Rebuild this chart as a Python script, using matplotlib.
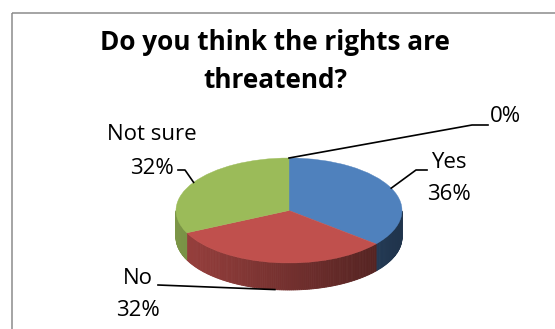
import numpy as np
import matplotlib
matplotlib.use("Agg")
import matplotlib.pyplot as plt
from matplotlib.patches import Wedge, Polygon, Rectangle
from matplotlib.transforms import Affine2D

# survey answers
categories = ["Yes", "No", "Not sure", ""]
shares = [36, 32, 32, 0]
colors = ["#4f81bd", "#c0504d", "#9bbb59", "#8064a2"]
title_lines = ["Do you think the rights are", "threatend?"]

plt.rcParams['font.family'] = ['Open Sans', 'DejaVu Sans']

fig = plt.figure(figsize=(5.55, 3.29), dpi=100)
ax = fig.add_axes([0, 0, 1, 1])
ax.set_xlim(0, 555)
ax.set_ylim(329, 0)
ax.axis('off')

# chart frame
ax.add_patch(Rectangle((11.5, 13), 600, 400, fill=False, ec="#8c8c8c", lw=1.1))

for i, line in enumerate(title_lines):
    ax.text(275, 42 + 38 * i, line, ha='center', va='center', fontsize=18.8,
            fontweight='bold')

# pie geometry in pixels: centre, half-width, half-height, rim depth
cx, cy, a, b, depth = 289, 210.5, 113, 52.5, 27
pie_tr = Affine2D().scale(a, -b).translate(cx, cy) + ax.transData
dz = depth / b

fracs = np.array(shares, dtype=float) / sum(shares)
ends = 90 - 360 * np.cumsum(fracs)
starts = np.concatenate([[90], ends[:-1]])

def shade(col, ang):
    rgb = np.array(matplotlib.colors.to_rgb(col))
    f = 0.6 - 0.2 * np.cos(np.radians(ang))
    return tuple(np.clip(rgb * f, 0, 1))

# rim (front half only)
for col, t1, t2 in zip(colors, starts, ends):
    if t1 == t2:
        continue
    steps = max(int(abs(t1 - t2)), 2)
    angs = np.linspace(t2, t1, steps + 1)
    for a1, a2 in zip(angs[:-1], angs[1:]):
        m = np.radians((a1 + a2) / 2)
        if np.sin(m) >= 0:
            continue
        r1, r2 = np.radians(a1), np.radians(a2)
        pts = [(np.cos(r1), np.sin(r1)), (np.cos(r2), np.sin(r2)),
               (np.cos(r2), np.sin(r2) - dz), (np.cos(r1), np.sin(r1) - dz)]
        c = shade(col, np.degrees(m))
        ax.add_patch(Polygon(pts, closed=True, fc=c, ec=c, lw=0.6,
                             transform=pie_tr))

# top faces
for col, t1, t2 in zip(colors, starts, ends):
    if t1 == t2:
        continue
    ax.add_patch(Wedge((0, 0), 1, t2, t1, fc=col, ec=col, lw=0.3,
                       transform=pie_tr))

# data labels with leader lines
label_pos = {"Yes": (449, 162), "No": (138, 278), "Not sure": (152, 135), "": (505, 117)}
elbows = {"Yes": [(416, 170), (427, 170)],
          "No": [(158, 285)],
          "Not sure": [(185, 170), (178, 170)],
          "": [(472, 125), (488, 125)]}

for cat, val, t1, t2 in zip(categories, shares, starts, ends):
    mid = np.radians((t1 + t2) / 2)
    px, py = cx + a * np.cos(mid), cy - b * np.sin(mid)
    if np.sin(mid) < -0.9:
        py += depth
    xs = [px] + [e[0] for e in elbows[cat]]
    ys = [py] + [e[1] for e in elbows[cat]]
    ax.plot(xs, ys, color='black', lw=1.2)
    lx, ly = label_pos[cat]
    if cat:
        ax.text(lx, ly, cat, ha='center', va='center', fontsize=16)
        ly += 33
    ax.text(lx, ly, f"{val}%", ha='center', va='center', fontsize=16)

fig.savefig("out.png", dpi=100)
